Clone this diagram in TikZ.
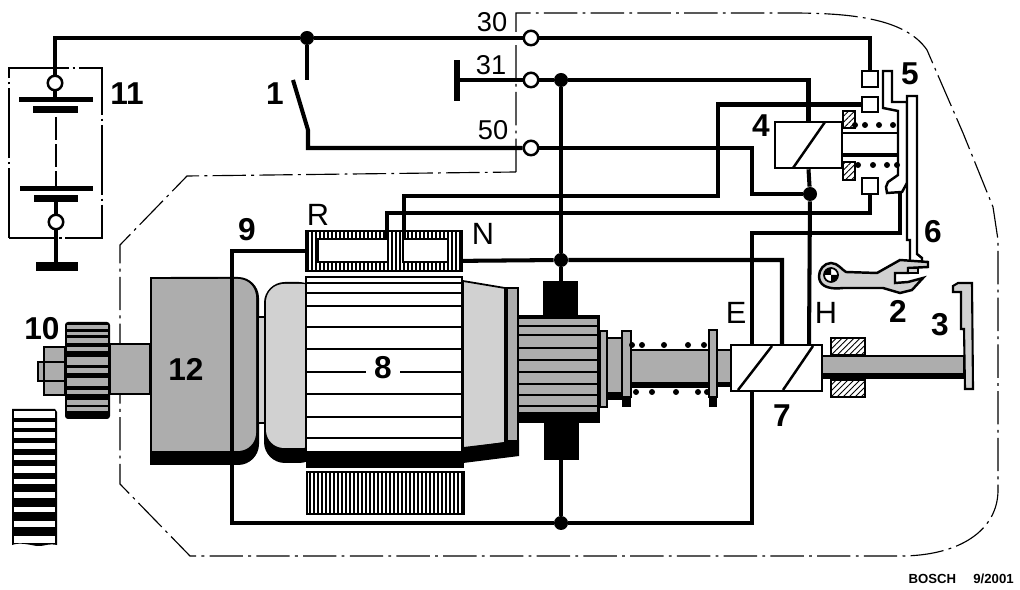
\documentclass[tikz,border=0pt]{standalone}
\usepackage{fontspec}
\setmainfont{Liberation Sans}
\usetikzlibrary{patterns.meta}
\definecolor{dotgray}{gray}{0.68}
\definecolor{lightdot}{gray}{0.82}
\tikzset{
  wire/.style={line width=2.3pt},
  thin wire/.style={line width=1.4pt},
  border line/.style={line width=0.65pt, dash pattern=on 19pt off 3pt on 1.6pt off 3pt},
  frame line/.style={line width=0.65pt},
  junction/.style={circle, fill=black, inner sep=0pt, minimum size=0.28cm},
  terminal/.style={circle, draw, fill=white, line width=1.4pt, inner sep=0pt, minimum size=0.29cm},
  contact/.style={rectangle, draw, fill=white, line width=1.4pt, inner sep=0pt, minimum size=0.31cm},
  coil/.style={rectangle, draw, fill=white, line width=1.5pt, inner sep=0pt},
  plate/.style={fill=black},
  bignum/.style={font=\fontsize{18}{18}\selectfont\bfseries, inner sep=0pt},
  letter/.style={font=\fontsize{15.5}{15.5}\selectfont, inner sep=0pt},
  bigletter/.style={font=\fontsize{17.5}{17.5}\selectfont, inner sep=0pt},
  shatch/.style={pattern={Lines[angle=45,distance=2.4pt,line width=0.5pt]}},
  springdot/.style={fill=black}
}
\begin{document}
\begin{tikzpicture}[x=0.02cm, y=-0.02cm]
\useasboundingbox (0,0) rectangle (1020,590);

% enclosure of the starter
\draw[border line] (516,172) -- (516,13) -- (790,13) .. controls (850,13) and (905,18) .. (927,50)
  -- (943,87) -- (963,133) -- (993,207) -- (998,240) -- (998,490)
  .. controls (998,530) and (960,556) .. (900,556) -- (190,556) -- (120,484) -- (120,245)
  -- (187,176) -- cycle;

% battery
\draw[frame line, dash pattern=on 40pt off 2pt on 1.5pt off 2pt] (9,238) -- (9,68) -- (102,68) -- (102,238) -- cycle;
\node[terminal] (batp) at (55,83) {};
\node[terminal] (batm) at (56,222) {};
\fill[plate] (19,97) rectangle (93,102);
\fill[plate] (33,106) rectangle (78,113);
\fill[plate] (20,186) rectangle (93,191);
\fill[plate] (34,195) rectangle (78,202);
\fill[plate] (36,262) rectangle (78,271);
\coordinate (batq) at (55,99);
\coordinate (batr) at (56,197);
\coordinate (batg) at (56,264);
\draw[line width=1.6pt, dash pattern=on 13pt off 2.5pt] (56,117) -- (56,186);

% junctions and terminals
\node[junction] (jswitch) at (307,38) {};
\node[junction] (jearth) at (561,80) {};
\node[junction] (jhold) at (810,194) {};
\node[junction] (jfield) at (561,260) {};
\node[junction] (jbrush) at (561,523) {};
\node[terminal] (t30) at (531,38) {};
\node[terminal] (t31) at (531,80) {};
\node[terminal] (t50) at (531,148) {};

% switch
\coordinate (swa) at (307,80);
\coordinate (swb) at (293,80);
\coordinate (swc) at (308,130);
\coordinate (swd) at (308,148);

% solenoid parts
\node[contact] (ca) at (870,79) {};
\node[contact] (cb) at (870,104.5) {};
\node[contact] (cc) at (870,186) {};
\node[coil, minimum width=1.34cm, minimum height=0.92cm] (coilfour) at (808.5,145) {};
\node[coil, minimum width=1.82cm, minimum height=0.92cm] (coilseven) at (776.5,368) {};
\coordinate (ein) at (782,345);
\coordinate (hin) at (809,345);
\coordinate (sup) at (752,345);
\coordinate (sdown) at (752,391);
\coordinate (wone) at (404,240);
\coordinate (wtwo) at (387,240);
\coordinate (wthree) at (448,261);
\coordinate (wfour) at (318,251);
\coordinate (bara) at (900,190);
\coordinate (brup) at (561,282);
\coordinate (brlo) at (561,460);
\coordinate (earth) at (457,80);

% wires
\begin{scope}[wire]
  \draw (batp) |- (jswitch) -- (t30) -| (ca);
  \draw (jswitch) -- (swa);
  \draw (swb) -- (swc) -- (swd) -- (t50);
  \draw (earth) -- (t31) -- (jearth) -| (coilfour.north);
  \draw (batq) -- (batp);
  \draw (batr) -- (batm) -- (batg);
  \draw (t50) -- (752,148) -- (752,194) -- (jhold);
  \draw (coilfour.south) -- (jhold) -- (hin);
  \draw (cb) -| (718,196) -| (wone);
  \draw (cc) |- (wtwo |- 0,213) -- (wtwo);
  \draw (jearth) -- (jfield) -- (brup);
  \draw (wthree) -- (jfield) -- (782,260) -- (ein);
  \draw (brlo) -- (jbrush);
  \draw (wfour) -- (232,251) -- (232,523) -- (jbrush) -- (752,523) -- (sdown);
  \draw (sup) -- (752,233) -- (900,233) -- (bara);
\end{scope}
\fill[plate] (453.5,60) rectangle (460,101);

% field winding
\fill[white] (306,231) rectangle (462,271);
\foreach \xa in {308,312,...,460}
  \draw[line width=0.75pt] (\xa,231) -- (\xa,271);
\draw[line width=1.4pt] (306,231) rectangle (462,271);
\draw[line width=1.6pt, fill=white] (318,239) rectangle (388,262);
\draw[line width=1.6pt, fill=white] (403,239) rectangle (448,262);
\draw[wire] (wone) -- (404,225);
\draw[wire] (wtwo) -- (387,225);

% drive bearing 12
\fill[black, rounded corners=0.42cm] (150,277) -- (259,277) -- (259,465) -- (150,465) -- cycle;
\fill[black] (150,277) rectangle (200,465);
\fill[dotgray, rounded corners=0.36cm] (200,279) -- (256,279) -- (256,451) -- (200,451) -- cycle;
\fill[dotgray] (152,279) rectangle (220,451);
\draw[wire] (232,270) -- (232,470);
\fill[lightdot] (259,318) rectangle (264,422);
\draw[frame line] (259,317) -- (264,317) (259,423) -- (264,423);

% left end of the yoke
\fill[black, rounded corners=0.42cm] (320,282) -- (264,282) -- (264,463) -- (320,463) -- cycle;
\fill[lightdot, rounded corners=0.36cm] (320,284) -- (266,284) -- (266,448) -- (320,448) -- cycle;

% yoke 8
\draw[thin wire, fill=white] (306,277) rectangle (462,452);
\fill[black] (306,452) rectangle (464,468);
\foreach \ya in {283,293,306,327,349,394,417,438}
  \draw[line width=1pt] (306,\ya) -- (462,\ya);
\draw[line width=1pt] (306,372) -- (366,372) (400,372) -- (462,372);

% cone and collector ring
\filldraw[lightdot, draw=black, line width=1pt] (463,281) -- (505,288) -- (505,443) -- (463,448) -- cycle;
\fill[black] (463,448) -- (519,440) -- (519,456) -- (463,463) -- cycle;
\filldraw[dotgray, draw=black, line width=1.2pt] (507,288) rectangle (518,441);

% commutator
\fill[black] (519,315) rectangle (600,423);
\fill[dotgray] (519,319) rectangle (597,412);
\foreach \ya in {326,335,348,360,372,384,395,406}
  \draw[line width=1.7pt] (519,\ya) -- (597,\ya);
\fill[black] (543,281) rectangle (578,315);
\fill[black] (544,423) rectangle (579,460);

% stator hatching
\fill[white] (307,472) rectangle (464,514);
\foreach \xa in {310,314,...,462}
  \draw[line width=0.75pt] (\xa,472) -- (\xa,514);
\draw[line width=1pt] (307,472) rectangle (464,514);

% shaft
\filldraw[dotgray, draw=black, line width=1.2pt] (600,331) rectangle (607,407);
\filldraw[dotgray, draw=black, line width=1.2pt] (607,338) rectangle (622,393);
\fill[black] (607,393) rectangle (622,400);
\filldraw[dotgray, draw=black, line width=1.2pt] (622,331) rectangle (631,397);
\fill[black] (622,397) rectangle (631,407);
\filldraw[dotgray, draw=black, line width=1.2pt] (631,350) rectangle (709,383);
\fill[black] (631,383) rectangle (709,388);
\filldraw[dotgray, draw=black, line width=1.2pt] (717,350) rectangle (731,383);
\fill[black] (717,383) rectangle (731,387);
\filldraw[dotgray, draw=black, line width=1.2pt] (709,330) rectangle (717,397);
\fill[black] (709,397) rectangle (717,407);
\foreach \xa in {632,642,664,688,704}
  \fill[springdot] (\xa,345) circle (0.06cm);
\foreach \xa in {636,652,676,698,707}
  \fill[springdot] (\xa,392) circle (0.06cm);

% slanted turns of coil 7
\draw[thin wire] (738,390) -- (772,346);
\draw[thin wire] (783,390) -- (813,346);

% plunger and guides
\draw[frame line, shatch] (831,338) rectangle (865,355);
\draw[frame line, shatch] (831,380) rectangle (865,397);
\filldraw[dotgray, draw=black, line width=1.2pt] (822,356) rectangle (964,374);
\fill[black] (822,374) rectangle (964,379);
\filldraw[lightdot, draw=black, line width=1.2pt] (953,292) -- (953,286) -- (958,283) -- (972,283)
  -- (973,389) -- (965,389) -- (964,329) -- (961,329) -- (961,292) -- cycle;

% coil 4
\draw[thin wire] (793,168) -- (825,122);
\draw[thin wire, shatch] (843,111) rectangle (855,128);
\draw[thin wire, shatch] (843,162) rectangle (855,180);
\draw[line width=1.2pt] (842,133) -- (898,133);
\draw[line width=2.4pt] (842,155) -- (898,155);

% contact bridge 5
\draw[thin wire, fill=white] (883,71) -- (892,71) -- (892,102) -- (907,102) -- (907,183) -- (902,192)
  -- (887,193) -- (886,187) -- (888,182) -- (898,175) -- (898,111) -- (883,108) -- cycle;
\foreach \xa in {855,865,879,893}
  \fill[springdot] (\xa,125) circle (0.06cm);
\foreach \xa in {858,873,887,897}
  \fill[springdot] (\xa,165) circle (0.06cm);
% rod 6
\draw[thin wire, fill=white] (907,96) -- (917,96) -- (917,254) -- (922,258) -- (922,262) -- (910,262) -- (910,240) -- (907,240) -- cycle;

% lever 2
\filldraw[lightdot, draw=black, line width=1.4pt] (831,263) .. controls (838,263) and (842,270) .. (846,272)
  -- (877,273) -- (900,260) -- (928,262) -- (928,267) -- (908,268) -- (908,273) -- (895,273) -- (895,283)
  -- (908,282) -- (923,278) -- (912,290) -- (900,293) -- (883,288) -- (843,288)
  .. controls (825,290) and (819,284) .. (819,276) .. controls (819,270) and (824,263) .. (831,263) -- cycle;
\draw[line width=1pt, fill=white] (831,275) circle (0.14cm);
\fill (831,275) -- (838,275) arc (0:-90:0.14cm) -- cycle;
\fill (831,275) -- (824,275) arc (180:90:0.14cm) -- cycle;
\filldraw[lightdot, draw=black, line width=1pt] (908,268) rectangle (918,273);

% pinion 10
\filldraw[dotgray, draw=black, line width=1.2pt] (110,344) rectangle (150,394);
\filldraw[dotgray, draw=black, line width=1.2pt] (44,347) rectangle (65,395);
\draw[line width=1pt] (44,362) -- (65,362) (44,381) -- (65,381);
\filldraw[dotgray, draw=black, line width=1pt] (38,362) rectangle (44,381);
\fill[black, rounded corners=0.06cm] (65,322) rectangle (110,419);
\foreach \ya/\yb in {325/329,332/335,338/343,347/351,357/365,368/373,378/386,390/394,400/405,407/411}
  \fill[dotgray] (67,\ya) rectangle (108,\yb);

% ring gear
\fill[black] (12,409) -- (55,409) -- (57,412) -- (57,545) .. controls (48,543) and (42,547) .. (37,546)
  .. controls (30,545) and (20,542) .. (12,545) -- cycle;
\foreach \ya/\yb in {411/418,422/428,432/438,443/449,455/460,466/473,479/484,492/498,507/512,521/527,536/543}
  \fill[white] (14,\ya) rectangle (55,\yb);

% labels
\node[letter] (lthirty) at (492,22) {30};
\node[letter] (lthirtyone) at (491,65) {31};
\node[letter] (lfifty) at (493,130) {50};
\node[bigletter] (lr) at (318,215) {R};
\node[bigletter] (ln) at (483,234) {N};
\node[bigletter] (le) at (736,313) {E};
\node[bigletter] (lh) at (826,313) {H};
\node[bignum] (lone) at (275,94) {1};
\node[bignum] (ltwo) at (898,311) {2};
\node[bignum] (lthree) at (940,325) {3};
\node[bignum] (lfour) at (761,126) {4};
\node[bignum] (lfive) at (910,74) {5};
\node[bignum] (lsix) at (933,232) {6};
\node[bignum] (lseven) at (782,416) {7};
\node[bignum] (leight) at (383,368) {8};
\node[bignum] (lnine) at (247,230) {9};
\node[bignum] (lten) at (42,329) {10};
\node[bignum] (leleven) at (127,94) {11};
\node[bignum] (ltwelve) at (186,369) {12};
\node[font=\fontsize{7.5}{7.5}\selectfont\bfseries, inner sep=0pt, anchor=east] (lbosch) at (1014,579) {BOSCH\hspace{1.3em}9/2001};
\end{tikzpicture}
\end{document}
